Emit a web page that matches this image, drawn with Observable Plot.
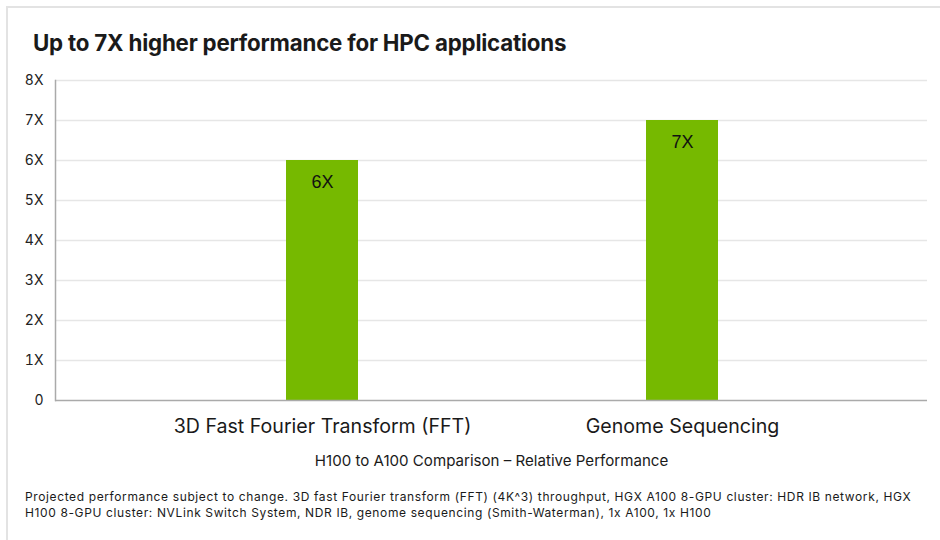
<!DOCTYPE html>
<html><head><meta charset="utf-8">
<script src="https://cdn.jsdelivr.net/npm/d3@7"></script>
<script src="https://cdn.jsdelivr.net/npm/@observablehq/plot@0.6"></script>
<style>
body{margin:0;background:#fff;}
#wrap{position:relative;width:940px;height:540px;overflow:hidden;font-family:Inter,"Noto Sans",sans-serif;background:#fff}
#frameTop{position:absolute;left:6px;top:6px;right:0;height:2px;background:#e3e3e3}
#frameLeft{position:absolute;left:6px;top:6px;bottom:0;width:2px;background:#e3e3e3}
#title{position:absolute;left:33px;top:29px;font-size:22.3px;font-weight:700;color:#1a1a1a;letter-spacing:-0.2px;white-space:nowrap}
#chart{position:absolute;left:0;top:0}
#caption{position:absolute;left:25px;top:489px;font-size:12px;line-height:16px;letter-spacing:0.62px;color:#1a1a1a;white-space:nowrap}
</style></head>
<body>
<div id="wrap">
  <div id="frameTop"></div><div id="frameLeft"></div>
  <div id="chart"></div>
  <div id="title"></div>
  <div id="caption"></div>
</div>
<script>
const titleText = "Up to 7X higher performance for HPC applications";
const categories = ["3D Fast Fourier Transform (FFT)", "Genome Sequencing"];
const values = [6, 7];
const valueLabels = ["6X", "7X"];
const yTicks = [0, 1, 2, 3, 4, 5, 6, 7, 8];
const yTickLabels = ["0", "1X", "2X", "3X", "4X", "5X", "6X", "7X", "8X"];
const xAxisLabel = "H100 to A100 Comparison \u2013 Relative Performance";
const captionLines = [
  "Projected performance subject to change. 3D fast Fourier transform (FFT) (4K^3) throughput, HGX A100 8-GPU cluster: HDR IB network, HGX",
  "H100 8-GPU cluster: NVLink Switch System, NDR IB, genome sequencing (Smith-Waterman), 1x A100, 1x H100"
];

document.getElementById("title").textContent = titleText;
const cap = document.getElementById("caption");
captionLines.forEach((l, i) => { if (i) cap.appendChild(document.createElement("br")); cap.appendChild(document.createTextNode(l)); });

const data = categories.map((c, i) => ({category: c, value: values[i], label: valueLabels[i]}));
const tickLabelMap = new Map(yTicks.map((t, i) => [t, yTickLabels[i]]));

const chart = Plot.plot({
  width: 940,
  height: 480,
  marginLeft: 55,
  marginRight: 13,
  marginTop: 80,
  marginBottom: 80,
  style: {fontFamily: "Inter, 'Noto Sans', sans-serif", background: "transparent", color: "#1a1a1a"},
  x: {domain: categories, paddingInner: 0.8, paddingOuter: 0.611, align: 0.525, label: null},
  y: {domain: [0, 8], label: null},
  marks: [
    Plot.ruleY(yTicks.filter(t => t > 0), {stroke: "#e6e6e6", strokeWidth: 1.5}),
    Plot.barY(data, {x: "category", y: "value", fill: "#76b900"}),
    Plot.text(data, {x: "category", y: "value", text: "label", dy: 22, fontSize: 18, fontFamily: "'Liberation Sans', Arial, sans-serif", fill: "#111"}),
    Plot.ruleY([0], {stroke: "#aaaaaa", strokeWidth: 1.5}),
    Plot.frame({anchor: "left", stroke: "#aaaaaa", strokeWidth: 1.5}),
    Plot.axisY({ticks: yTicks, tickFormat: d => tickLabelMap.get(d), tickSize: 0, tickPadding: 12, fontSize: 14, label: null, fill: "#222"}),
    Plot.axisX({tickSize: 0, tickPadding: 19, fontSize: 19.6, label: null, fill: "#1a1a1a"}),
    Plot.text([xAxisLabel], {frameAnchor: "bottom", dy: 65, fontSize: 15.1, fill: "#1a1a1a"})
  ]
});
document.getElementById("chart").appendChild(chart);
</script>
</body></html>
